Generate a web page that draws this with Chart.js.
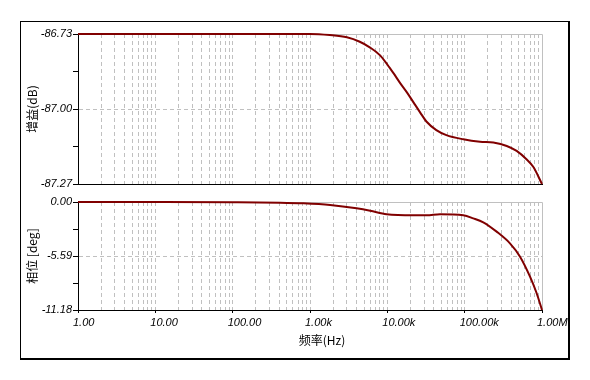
<!DOCTYPE html>
<html>
<head>
<meta charset="utf-8">
<script src="https://cdn.jsdelivr.net/npm/chart.js@4.4.1/dist/chart.umd.min.js"></script>
<style>
  html, body { margin: 0; padding: 0; background: #fff; }
  #wrap { position: relative; width: 590px; height: 380px; overflow: hidden; }
  #frame { position: absolute; left: 20px; top: 21px; width: 550px; height: 339px;
           box-sizing: border-box; border: 1px solid #000; border-right-width: 2px; border-bottom-width: 2px; }
  #gain { position: absolute; left: 0; top: 0; }
  #phase { position: absolute; left: 0; top: 190px; }
</style>
</head>
<body>
<div id="wrap">
  <div id="frame"></div>
  <canvas id="gain" width="590" height="196"></canvas>
  <canvas id="phase" width="590" height="190"></canvas>
</div>
<script>
// frequency axis, shared by both panels
const FREQ_DECADES = [1, 10, 100, 1e3, 1e4, 1e5, 1e6];
const FREQ_LABELS = ['1.00', '10.00', '100.00', '1.00k', '10.00k', '100.00k', '1.00M'];

// gain panel (dB)
const GAIN_FREQ = [1, 10, 100, 1000, 1800, 3000, 4400, 6000, 8000, 10000, 12000, 14500, 18000,
  22000, 26500, 32000, 43000, 58000, 96000, 158000, 235000, 350000, 470000, 630000, 770000, 1000000];
const GAIN_DB = [-86.73, -86.73, -86.73, -86.73, -86.734, -86.742, -86.758, -86.779, -86.806, -86.840,
  -86.871, -86.905, -86.941, -86.978, -87.012, -87.045, -87.076, -87.094, -87.109, -87.118, -87.121,
  -87.133, -87.151, -87.181, -87.208, -87.27];
const GAIN_TICKS = [-87.27, -87.135, -87.00, -86.865, -86.73];
const GAIN_LABELS = ['-87.27', '', '-87.00', '', '-86.73'];

// phase panel (deg)
const PHASE_FREQ = [1, 10, 100, 410, 820, 1820, 4000, 6000, 9800, 21700, 32300, 48000, 96000,
  129000, 174000, 259000, 385000, 520000, 700000, 853000, 1000000];
const PHASE_DEG = [0, 0, -0.02, -0.07, -0.14, -0.31, -0.65, -0.90, -1.27, -1.38, -1.38, -1.27, -1.38,
  -1.69, -2.10, -3.07, -4.28, -5.66, -7.73, -9.45, -11.18];
const PHASE_TICKS = [-11.18, -8.385, -5.59, -2.795, 0];
const PHASE_LABELS = ['-11.18', '', '-5.59', '', '0.00'];

const X_TITLE = '频率(Hz)';
const LINE_COLOR = '#800000';
const GRID_COLOR = '#c0c0c0';
const tickFont = { family: '"Liberation Sans", Arial, sans-serif', size: 11, style: 'italic' };
const titleFont = { family: '"Noto Sans CJK SC", sans-serif', size: 12 };

// dashed verticals at 1..9 of every decade
const freqGrid = [];
FREQ_DECADES.forEach((d, i) => {
  for (let m = 1; m <= 9; m++) {
    if (i === FREQ_DECADES.length - 1 && m > 1) break;
    freqGrid.push(d * m);
  }
});

// grey top/right border of each plot
const plotFrame = {
  id: 'plotFrame',
  beforeDatasetsDraw(chart) {
    const { ctx, chartArea: a } = chart;
    ctx.save();
    ctx.strokeStyle = GRID_COLOR;
    ctx.lineWidth = 1;
    ctx.beginPath();
    ctx.moveTo(a.left, a.top + 0.5);
    ctx.lineTo(a.right + 0.5, a.top + 0.5);
    ctx.lineTo(a.right + 0.5, a.bottom);
    ctx.stroke();
    ctx.restore();
  },
};

// x title sits a little right of the axis centre in the original
const freqTitle = {
  id: 'freqTitle',
  afterDraw(chart) {
    const { ctx, chartArea: a } = chart;
    ctx.save();
    ctx.font = '12px "Noto Sans CJK SC", sans-serif';
    ctx.fillStyle = '#000';
    ctx.textAlign = 'center';
    ctx.textBaseline = 'middle';
    ctx.fillText(X_TITLE, (a.left + a.right) / 2 + 12, a.bottom + 30);
    ctx.restore();
  },
};

function freqAxis(showLabels) {
  return {
    type: 'logarithmic',
    min: 1,
    max: 1e6,
    afterBuildTicks: (s) => {
      s.ticks = freqGrid.map((v) => ({ value: v, major: FREQ_DECADES.includes(v) }));
    },
    afterFit: (s) => { s.height = showLabels ? 70 : 12; },
    border: { color: '#000', width: 1, dash: [4, 3] },
    grid: {
      color: (c) => (c.tick && c.tick.value > 1 && c.tick.value < 1e6) ? GRID_COLOR : 'rgba(0,0,0,0)',
      drawTicks: showLabels,
      tickLength: 3,
      tickColor: (c) => (c.tick && FREQ_DECADES.includes(c.tick.value)) ? '#000' : 'rgba(0,0,0,0)',
      tickBorderDash: [],
    },
    ticks: {
      display: showLabels,
      autoSkip: false,
      maxRotation: 0,
      align: 'start',
      labelOffset: -5,
      padding: 3,
      color: '#000',
      font: tickFont,
      callback: (v) => {
        const i = FREQ_DECADES.indexOf(v);
        return i >= 0 ? FREQ_LABELS[i] : '';
      },
    },
  };
}

function levelAxis(tickVals, tickLabels, title) {
  return {
    type: 'linear',
    min: tickVals[0],
    max: tickVals[tickVals.length - 1],
    afterBuildTicks: (s) => { s.ticks = tickVals.map((v) => ({ value: v })); },
    afterFit: (s) => { s.width = 78; },
    border: { color: '#000', width: 1, dash: [4, 3] },
    grid: {
      color: (c) => c.index === 2 ? GRID_COLOR : 'rgba(0,0,0,0)',
      tickLength: 5,
      tickColor: '#000',
      tickBorderDash: [],
    },
    ticks: {
      padding: 1,
      color: '#000',
      font: tickFont,
      callback: (v, i) => tickLabels[i],
    },
    title: {
      display: true,
      text: title,
      color: '#000',
      font: titleFont,
      padding: { top: 25, bottom: 0 },
    },
  };
}

function makePanel(canvas, freq, vals, yAxis, showLabels, padTop) {
  return new Chart(canvas, {
    type: 'line',
    data: {
      datasets: [{
        data: freq.map((f, i) => ({ x: f, y: vals[i] })),
        borderColor: LINE_COLOR,
        borderWidth: 2,
        pointRadius: 0,
        cubicInterpolationMode: 'monotone',
        clip: 3,
      }],
    },
    options: {
      responsive: false,
      animation: false,
      layout: { padding: { top: padTop, right: 48, bottom: 0, left: 0 } },
      plugins: { legend: { display: false }, tooltip: { enabled: false } },
      scales: { x: freqAxis(showLabels), y: yAxis },
    },
    plugins: showLabels ? [plotFrame, freqTitle] : [plotFrame],
  });
}

makePanel(document.getElementById('gain'), GAIN_FREQ, GAIN_DB,
  levelAxis(GAIN_TICKS, GAIN_LABELS, '增益(dB)'), false, 34);
makePanel(document.getElementById('phase'), PHASE_FREQ, PHASE_DEG,
  levelAxis(PHASE_TICKS, PHASE_LABELS, '相位 [deg]'), true, 12);
</script>
</body>
</html>
